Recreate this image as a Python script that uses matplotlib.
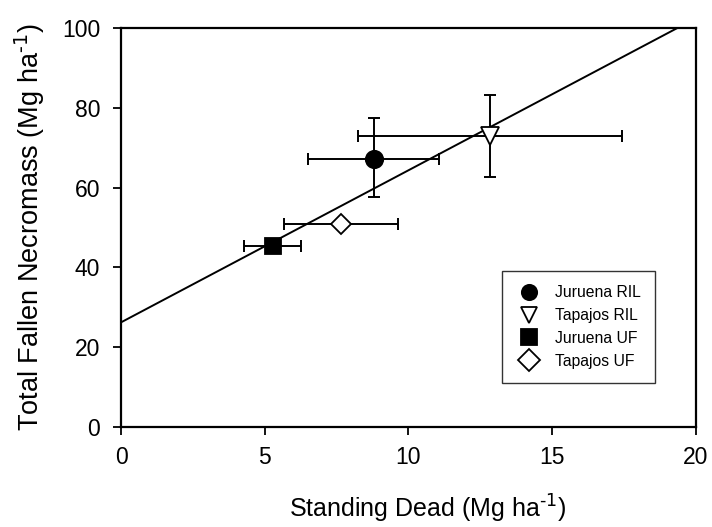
import matplotlib
matplotlib.use("Agg")
import matplotlib.pyplot as plt
import numpy as np

plt.rcParams["font.family"] = ["Liberation Sans", "DejaVu Sans"]
plt.rcParams["mathtext.default"] = "regular"

# ── Data ──────────────────────────────────────
labels   = ["Juruena RIL", "Tapajos RIL", "Juruena UF", "Tapajos UF"]
markers  = ["o", "v", "s", "D"]
faces    = ["black", "white", "black", "white"]
msizes   = [12.5, 12.5, 11, 10.5]
std_dead = [8.8, 12.85, 5.28, 7.67]
fallen   = [67.2, 72.8, 45.4, 50.9]
x_lo     = [6.52, 8.26, 4.28, 5.67]
x_hi     = [11.07, 17.45, 6.28, 9.65]
y_lo     = [57.5, 62.6, 45.4, 50.9]
y_hi     = [77.4, 83.2, 45.4, 50.9]

# regression line
intercept = 26.2
slope     = 3.81

fig = plt.figure(figsize=(7.12, 5.27), dpi=100)
ax = fig.add_axes([0.170, 0.190, 0.807, 0.757])

xx = np.array([0, 20])
ax.plot(xx, intercept + slope * xx, color="black", lw=1.4, zorder=2)

handles = []
for i in range(len(labels)):
    xerr = [[std_dead[i] - x_lo[i]], [x_hi[i] - std_dead[i]]]
    yerr = [[fallen[i] - y_lo[i]], [y_hi[i] - fallen[i]]]
    ax.errorbar(std_dead[i], fallen[i], xerr=xerr, yerr=yerr,
                fmt="none", ecolor="black", elinewidth=1.4,
                capsize=4.5, capthick=1.4, zorder=3)
    h, = ax.plot(std_dead[i], fallen[i], linestyle="none",
                 marker=markers[i], markersize=msizes[i],
                 markerfacecolor=faces[i], markeredgecolor="black",
                 markeredgewidth=1.3, zorder=4, label=labels[i])
    handles.append(h)

ax.set_xlim(0, 20)
ax.set_ylim(0, 100)
ax.set_xticks([0, 5, 10, 15, 20])
ax.set_yticks([0, 20, 40, 60, 80, 100])
ax.tick_params(direction="out", length=6, width=1.3, labelsize=16.5)
ax.tick_params(axis="x", pad=8)
ax.tick_params(axis="y", pad=9)
for s in ax.spines.values():
    s.set_linewidth(1.6)

unit = r"(Mg ha$^{\text{-1}}$)"
ax.set_xlabel("Standing Dead " + unit, fontsize=18)
ax.set_ylabel("Total Fallen Necromass " + unit, fontsize=19.5)
ax.xaxis.set_label_coords(0.534, -0.165)
ax.yaxis.set_label_coords(-0.128, 0.5)

leg = ax.legend(handles=handles, loc="center",
                bbox_to_anchor=(0.663, 0.113, 0.267, 0.275),
                fontsize=11.3, frameon=True, fancybox=False,
                edgecolor="black", labelspacing=0.5,
                handletextpad=0.9, borderpad=0.9, handlelength=1.6,
                borderaxespad=0)
leg.get_frame().set_linewidth(1.0)
for h in leg.legend_handles:
    h.set_markersize(11)

fig.savefig("out.png", dpi=100)
